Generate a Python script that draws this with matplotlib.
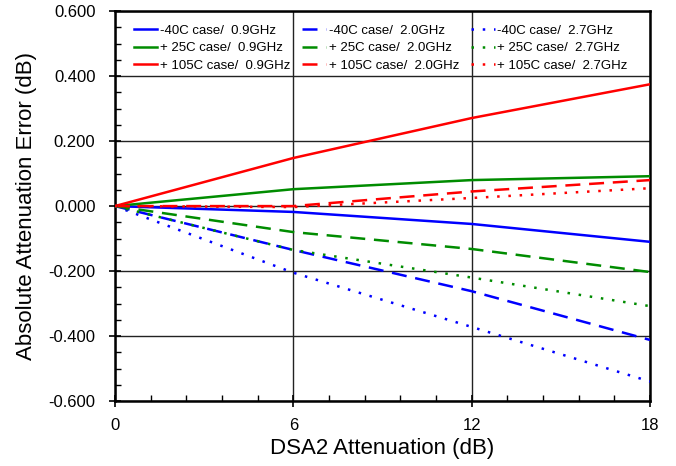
import matplotlib
matplotlib.use("Agg")
import matplotlib.pyplot as plt
from matplotlib.ticker import MultipleLocator, FormatStrFormatter

plt.rcParams["font.family"] = ["Liberation Sans", "DejaVu Sans"]

# attenuation steps (dB)
atten = [0, 6, 12, 18]

# absolute attenuation error (dB) per temperature / frequency
err_m40_09 = [0.0, -0.018, -0.055, -0.110]
err_p25_09 = [0.0, 0.052, 0.080, 0.092]
err_p105_09 = [0.0, 0.148, 0.271, 0.375]
err_m40_20 = [0.0, -0.135, -0.262, -0.412]
err_p25_20 = [0.0, -0.080, -0.132, -0.203]
err_p105_20 = [0.0, 0.000, 0.045, 0.080]
err_m40_27 = [0.0, -0.205, -0.372, -0.540]
err_p25_27 = [0.0, -0.135, -0.220, -0.308]
err_p105_27 = [0.0, -0.003, 0.025, 0.055]

labels = [
    "-40C case/  0.9GHz", "+ 25C case/  0.9GHz", "+ 105C case/  0.9GHz",
    "-40C case/  2.0GHz", "+ 25C case/  2.0GHz", "+ 105C case/  2.0GHz",
    "-40C case/  2.7GHz", "+ 25C case/  2.7GHz", "+ 105C case/  2.7GHz",
]
series = [err_m40_09, err_p25_09, err_p105_09,
          err_m40_20, err_p25_20, err_p105_20,
          err_m40_27, err_p25_27, err_p105_27]
colors = ["#0000ff", "#008c00", "#ff0000"] * 3
styles = ["-"] * 3 + [(0, (6, 3.5))] * 3 + [(0, (1, 3.5))] * 3

fig = plt.figure(figsize=(6.76, 4.66), dpi=100)
ax = fig.add_axes([0.170, 0.1395, 0.7915, 0.8365])

for y, lab, c, ls in zip(series, labels, colors, styles):
    ax.plot(atten, y, color=c, linestyle=ls, linewidth=1.8, label=lab, zorder=3)

ax.set_xlim(0, 18)
ax.set_ylim(-0.6, 0.6)
ax.xaxis.set_major_locator(MultipleLocator(6))
ax.xaxis.set_minor_locator(MultipleLocator(1.2))
ax.yaxis.set_major_locator(MultipleLocator(0.2))
ax.yaxis.set_minor_locator(MultipleLocator(0.05))
ax.yaxis.set_major_formatter(FormatStrFormatter("%.3f"))

ax.grid(True, which="major", color="#222222", linewidth=1.0, zorder=1)
for s in ax.spines.values():
    s.set_linewidth(1.8)

ax.tick_params(which="major", direction="inout", length=8, width=1.2)
ax.tick_params(axis="y", which="major", labelsize=12, pad=10)
ax.tick_params(axis="x", which="major", labelsize=12, pad=8)
ax.tick_params(which="minor", direction="in", length=4, width=1.0)

ax.set_xlabel("DSA2 Attenuation (dB)", fontsize=16, labelpad=4)
ax.set_ylabel("Absolute Attenuation Error (dB)", fontsize=16, labelpad=8)

leg = ax.legend(ncol=3, loc="upper left", bbox_to_anchor=(0.025, 0.9795),
                frameon=False, fontsize=9.5, handlelength=1.8,
                handletextpad=0.2, columnspacing=0.9, labelspacing=0.4,
                borderaxespad=0.0)

fig.savefig("out.png", dpi=100)
